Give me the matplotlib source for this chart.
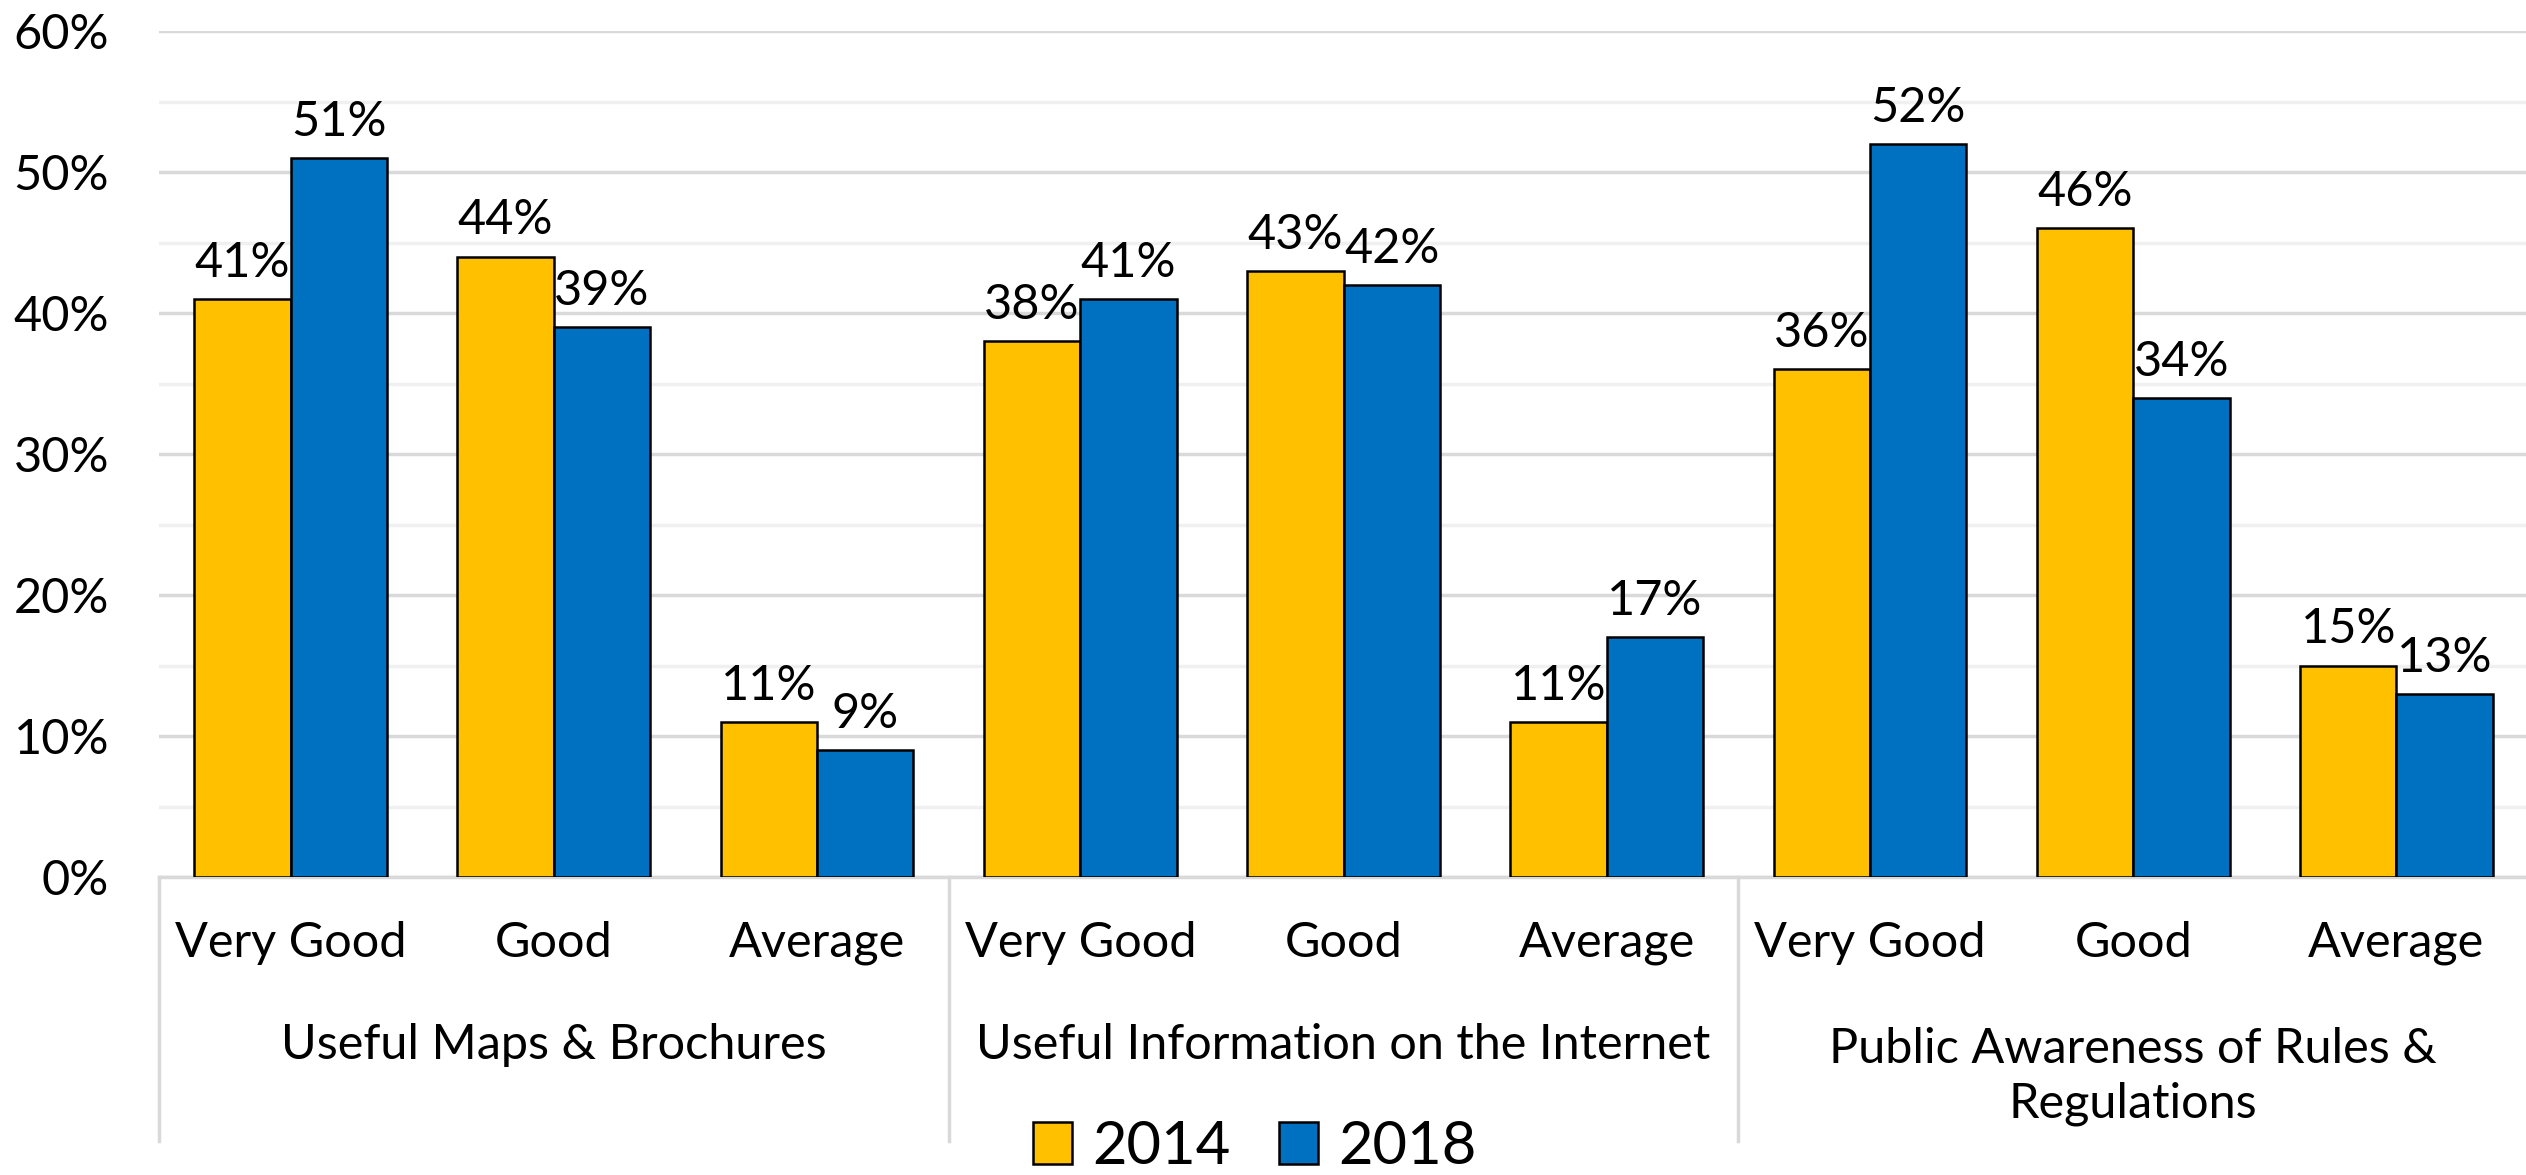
import matplotlib.pyplot as plt
import numpy as np
from matplotlib.patches import Patch
from matplotlib.ticker import MultipleLocator, PercentFormatter

plt.rcParams["font.family"] = ["Lato", "DejaVu Sans"]

groups = ["Useful Maps & Brochures", "Useful Information on the Internet",
          "Public Awareness of Rules &\nRegulations"]
ratings = ["Very Good", "Good", "Average"]
years = ["2014", "2018"]
values_2014 = [41, 44, 11, 38, 43, 11, 36, 46, 15]
values_2018 = [51, 39, 9, 41, 42, 17, 52, 34, 13]
colors = ["#FFC000", "#0070C0"]

W, H = 2526, 1175
FS = 35
fig = plt.figure(figsize=(W / 100, H / 100), dpi=100)
left, right, top, bottom = 159, 2528, 31, 877
ax = fig.add_axes([left / W, 1 - bottom / H, (right - left) / W, (bottom - top) / H])

n = len(values_2014)
x = np.arange(n)
bw = 0.366
ax.bar(x - bw / 2, values_2014, bw, color=colors[0], edgecolor="black", linewidth=1.8, zorder=3)
ax.bar(x + bw / 2, values_2018, bw, color=colors[1], edgecolor="black", linewidth=1.8, zorder=3)

for xi, v in zip(x, values_2014):
    ax.text(xi - bw / 2, v + 1.0, f"{v}%", ha="center", va="bottom", fontsize=FS)
for xi, v in zip(x, values_2018):
    ax.text(xi + bw / 2, v + 1.0, f"{v}%", ha="center", va="bottom", fontsize=FS)

ax.set_xlim(-0.5, n - 0.5)
ax.set_ylim(0, 60)
ax.yaxis.set_major_locator(MultipleLocator(10))
ax.yaxis.set_minor_locator(MultipleLocator(5))
ax.yaxis.set_major_formatter(PercentFormatter(decimals=0))
ax.grid(axis="y", which="major", color="#d9d9d9", linewidth=2.5, zorder=0)
ax.grid(axis="y", which="minor", color="#f0f0f0", linewidth=2.5, zorder=0)
ax.tick_params(axis="y", which="both", length=0, labelsize=FS, pad=36)
ax.tick_params(axis="x", length=0)
ax.set_xticks([])
for s in ["top", "right", "left"]:
    ax.spines[s].set_visible(False)
ax.spines["bottom"].set_color("#d9d9d9")
ax.spines["bottom"].set_linewidth(2.5)

trans = ax.get_xaxis_transform()
for i in range(n):
    ax.text(x[i], -0.078, ratings[i % 3], transform=trans, ha="center", va="center", fontsize=FS)
for g, name in enumerate(groups):
    yc = -0.236 if "\n" in name else -0.199
    ax.text(3 * g + 1, yc, name, transform=trans, ha="center", va="center",
            fontsize=FS, linespacing=1.3)
    ax.plot([3 * g - 0.5, 3 * g - 0.5], [0, -0.312], transform=trans, color="#d9d9d9",
            linewidth=2.5, clip_on=False)

handles = [Patch(facecolor=c, edgecolor="black", linewidth=1.8) for c in colors]
fig.legend(handles, years, loc="center", bbox_to_anchor=(1255 / W, 1 - 1147 / H), ncol=2,
           frameon=False, fontsize=43, handlelength=0.65, handleheight=0.7,
           handletextpad=0.35, columnspacing=0.8, borderpad=0)

fig.savefig("out.png", dpi=100)
